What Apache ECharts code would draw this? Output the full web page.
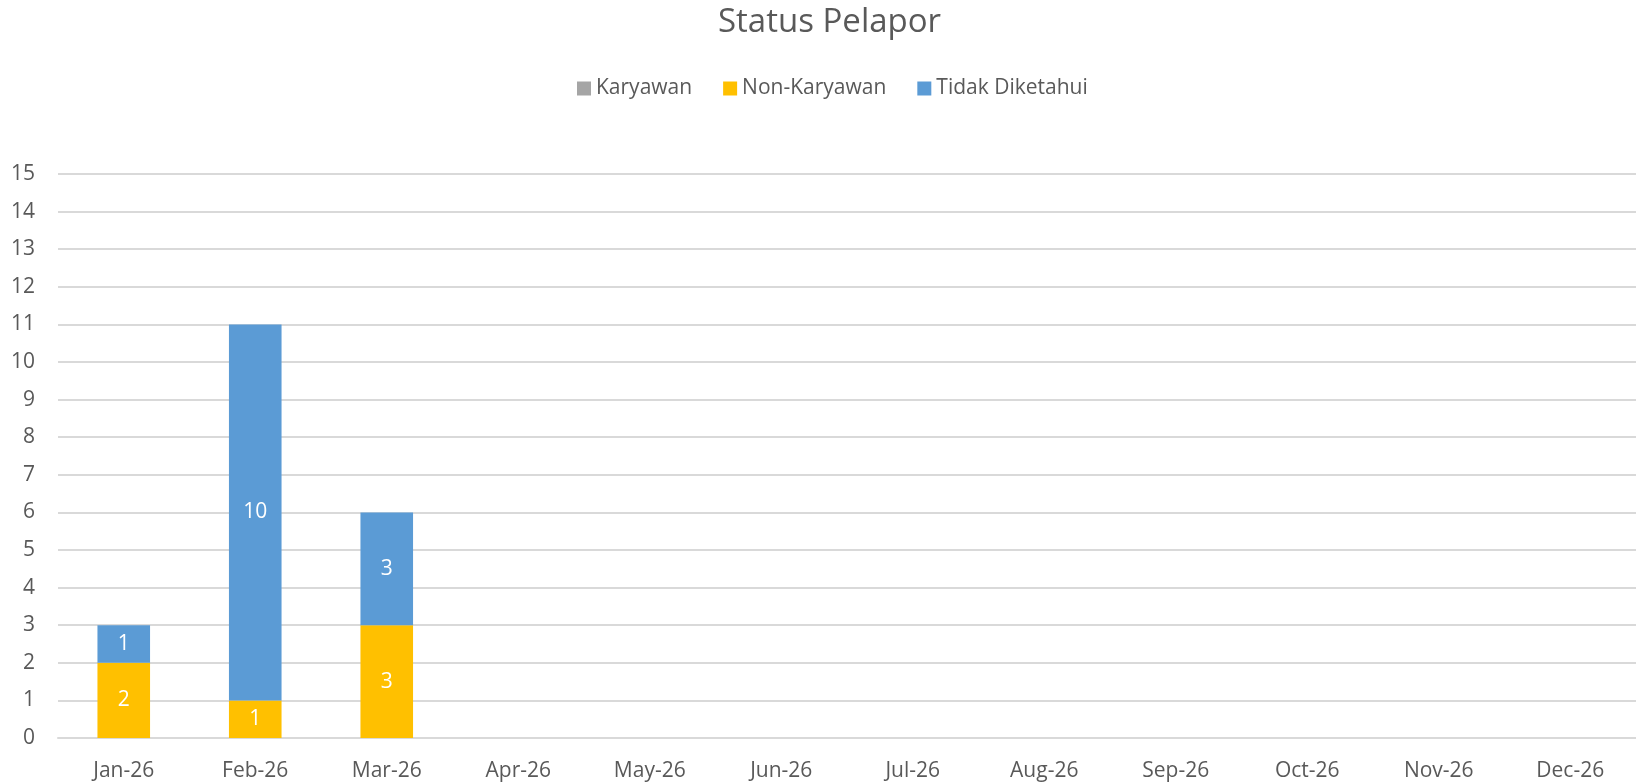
<!DOCTYPE html>
<html>
<head>
<meta charset="utf-8">
<script src="https://cdn.jsdelivr.net/npm/echarts@6/dist/echarts.min.js"></script>
<style>
  html, body { margin: 0; padding: 0; background: #fff; }
  #chart { width: 1636px; height: 782px; }
</style>
</head>
<body>
<div id="chart"></div>
<script>
// data
const months = ["Jan-26", "Feb-26", "Mar-26", "Apr-26", "May-26", "Jun-26",
  "Jul-26", "Aug-26", "Sep-26", "Oct-26", "Nov-26", "Dec-26"];
const karyawan = [0, 0, 0, 0, 0, 0, 0, 0, 0, 0, 0, 0];
const nonKaryawan = [2, 1, 3, 0, 0, 0, 0, 0, 0, 0, 0, 0];
const tidakDiketahui = [1, 10, 3, 0, 0, 0, 0, 0, 0, 0, 0, 0];

const font = "'Open Sans', 'DejaVu Sans', sans-serif";

function barSeries(name, data, color) {
  return {
    name: name,
    type: "bar",
    stack: "total",
    barWidth: "40%",
    data: data,
    itemStyle: { color: color },
    label: {
      show: true,
      position: "inside",
      color: "#fff",
      fontFamily: font,
      fontSize: 21,
      formatter: (p) => (p.value ? p.value : ""),
    },
  };
}

const chart = echarts.init(document.getElementById("chart"));
chart.setOption({
  animation: false,
  title: {
    text: "Status Pelapor",
    left: 713,
    top: 1,
    textStyle: { fontFamily: font, fontSize: 33, fontWeight: "normal", color: "#595959" },
  },
  legend: {
    top: 73,
    left: 572,
    itemWidth: 14,
    itemHeight: 14,
    itemGap: 31,
    icon: "rect",
    textStyle: { fontFamily: font, fontSize: 21, color: "#595959" },
    data: ["Karyawan", "Non-Karyawan", "Tidak Diketahui"],
  },
  grid: { left: 58, right: 0, top: 174, bottom: 44, containLabel: false },
  xAxis: {
    type: "category",
    data: months,
    axisLine: { lineStyle: { color: "#D9D9D9", width: 2 } },
    axisTick: { show: false },
    axisLabel: { fontFamily: font, fontSize: 21, color: "#595959", margin: 23 },
  },
  yAxis: {
    type: "value",
    min: 0,
    max: 15,
    interval: 1,
    axisLine: { show: false },
    axisTick: { show: false },
    axisLabel: { fontFamily: font, fontSize: 21, color: "#595959", margin: 23 },
    splitLine: { lineStyle: { color: "#D9D9D9", width: 2 } },
  },
  series: [
    barSeries("Karyawan", karyawan, "#A5A5A5"),
    barSeries("Non-Karyawan", nonKaryawan, "#FFC000"),
    barSeries("Tidak Diketahui", tidakDiketahui, "#5B9BD5"),
  ],
});
</script>
</body>
</html>
